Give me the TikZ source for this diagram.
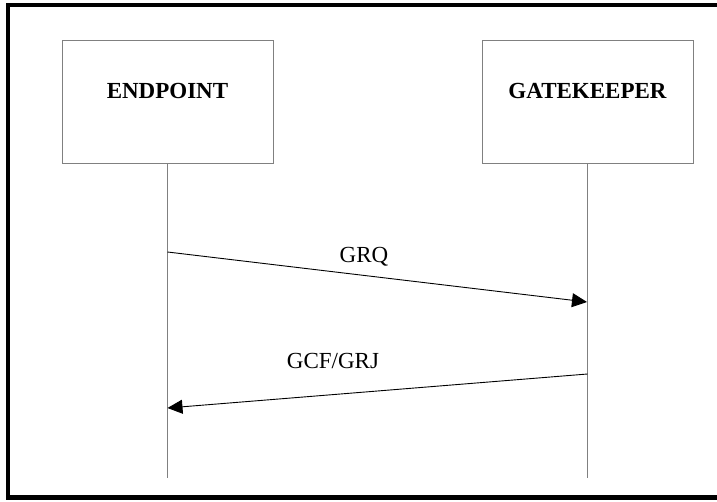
\documentclass[tikz,border=0pt]{standalone}
\usepackage{fontspec}
\setmainfont{Liberation Serif}
\usetikzlibrary{arrows.meta}
\begin{document}
\begin{tikzpicture}[x=1pt,y=-1pt,
  entity/.style={draw=black!50,line width=1pt,minimum width=211pt,minimum height=123pt,
    inner sep=0pt,font=\fontsize{23}{27}\selectfont\bfseries},
  lifeline/.style={draw=black!50,line width=1pt},
  msg/.style={draw=black,line width=0.9pt,-{Triangle[length=15pt,width=14pt]}},
  msglabel/.style={font=\fontsize{23}{27}\selectfont,anchor=base}]
\useasboundingbox (0,0) rectangle (717,502);
% page frame, open on the right
\draw[line width=4.5pt] (717,5) -- (8,5) -- (8,497.5) -- (717,497.5);
% participants
\node[entity] (ep) at (167.5,102.5) {};
\node[entity] (gk) at (587.5,102.5) {};
\node[anchor=base,font=\fontsize{23}{27}\selectfont\bfseries] (eplbl) at (167.5,99) {ENDPOINT};
\node[anchor=base,font=\fontsize{23}{27}\selectfont\bfseries] (gklbl) at (587.5,99) {GATEKEEPER};
% lifelines
\coordinate (epend) at (167.5,478);
\coordinate (gkend) at (587.5,478);
\draw[lifeline] (ep.south) -- (epend);
\draw[lifeline] (gk.south) -- (gkend);
% message points
\coordinate (m1s) at (167.5,252);
\coordinate (m1e) at (587,302);
\coordinate (m2s) at (587.5,374);
\coordinate (m2e) at (167.5,408);
\draw[msg] (m1s) -- (m1e);
\draw[msg] (m2s) -- (m2e);
\node[msglabel] (grq) at (364,263) {GRQ};
\node[msglabel] (gcf) at (333,368) {GCF/GRJ};
\end{tikzpicture}
\end{document}
